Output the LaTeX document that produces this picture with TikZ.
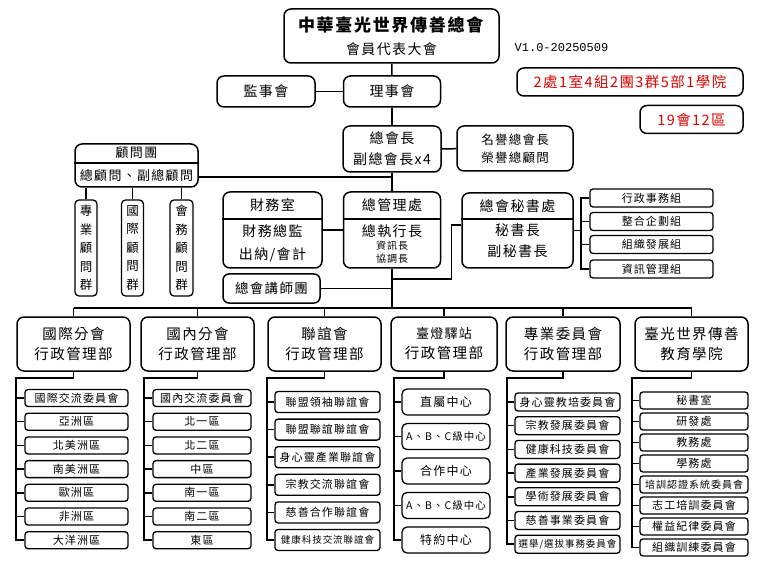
\documentclass[tikz,border=0pt]{standalone}
\usepackage{fontspec}
\setmainfont{Noto Sans CJK TC}[LetterSpace=10]
\newfontfamily\verfont{Liberation Mono}
\definecolor{hlred}{RGB}{215,0,0}

\begin{document}
\begin{tikzpicture}[x=1pt,y=-1pt,
    box/.style={draw,line width=1.5pt,rounded corners=7pt,inner sep=0pt,align=center},
    item/.style={draw,line width=1.3pt,rounded corners=3pt,inner sep=0pt,align=center},
    link/.style={line width=1.5pt}]
  \useasboundingbox (0,0) rectangle (760,569);
  % top of the chart
  \draw
    (391.5,36) node[box,minimum width=215pt,minimum height=54pt,font=\fontsize{17}{23}\selectfont] (top){\textbf{中華臺光世界傳善總會}\\{\fontsize{14}{20}\selectfont 會員代表大會}}
    (266,91.5) node[box,minimum width=98pt,minimum height=31pt,font=\fontsize{14}{20}\selectfont] (jianshi){監事會}
    (392,91.5) node[box,minimum width=97pt,minimum height=31pt,font=\fontsize{14}{20}\selectfont] (lishi){理事會}
    (392,149) node[box,minimum width=98pt,minimum height=46pt,font=\fontsize{14}{21}\selectfont] (pres){總會長\\副總會長x4}
    (515,148.5) node[box,minimum width=116pt,minimum height=45pt,font=\fontsize{12.5}{18}\selectfont] (honor){名譽總會長\\榮譽總顧問};
  \node[font=\verfont\fontsize{12}{14}\selectfont] (ver) at (561.5,48) {V1.0-20250509};
  \node[box,minimum width=226pt,minimum height=28pt,text=hlred,font=\fontsize{14.5}{18}\selectfont] (sum1) at (630,82) {2處1室4組2團3群5部1學院};
  \node[box,minimum width=103pt,minimum height=28pt,text=hlred,font=\fontsize{14.5}{18}\selectfont] (sum2) at (691.5,119.5) {19會12區};
  % advisors
  \node[box,minimum width=123pt,minimum height=43pt] (advisor) at (136.5,165.5) {};
  \node[font=\fontsize{13}{16}\selectfont] (advt) at (136.5,153) {顧問團};
  \node[font=\fontsize{13}{16}\selectfont] (advb) at (136.5,176) {總顧問、副總顧問};
  \draw[link] ([yshift=2.5pt]advisor.west) -- ([yshift=2.5pt]advisor.east);
  \draw
    (86,248) node[item,rounded corners=4pt,minimum width=22pt,minimum height=96pt,font=\fontsize{12.5}{18.5}\selectfont] (g1){專\\業\\顧\\問\\群}
    (132.5,248) node[item,rounded corners=4pt,minimum width=22pt,minimum height=96pt,font=\fontsize{12.5}{18.5}\selectfont] (g2){國\\際\\顧\\問\\群}
    (181.5,248) node[item,rounded corners=4pt,minimum width=23pt,minimum height=96pt,font=\fontsize{12.5}{18.5}\selectfont] (g3){會\\務\\顧\\問\\群};
  % offices
  \node[box,minimum width=99pt,minimum height=76pt] (finance) at (272.5,230) {};
  \node[font=\fontsize{14}{20}\selectfont] (fint) at (272.5,205) {財務室};
  \node[align=center,font=\fontsize{14}{23}\selectfont] (finb) at (272.5,243.5) {財務總監\\出納/會計};
  \draw[link] ([yshift=11pt]finance.west) -- ([yshift=11pt]finance.east);
  \node[box,minimum width=97pt,minimum height=76pt] (mgmt) at (392,230) {};
  \node[font=\fontsize{14}{20}\selectfont] (mgmtt) at (392,205) {總管理處};
  \node[font=\fontsize{14}{20}\selectfont] (mgmtb) at (392,231) {總執行長};
  \node[align=center,font=\fontsize{10}{13}\selectfont] (mgmts) at (392,252.5) {資訊長\\協調長};
  \draw[link] ([yshift=11pt]mgmt.west) -- ([yshift=11pt]mgmt.east);
  \node[box,minimum width=111pt,minimum height=75pt] (sec) at (517.5,230.5) {};
  \node[font=\fontsize{14}{20}\selectfont] (sect) at (517.5,206) {總會秘書處};
  \node[align=center,font=\fontsize{14}{21}\selectfont] (secb) at (517.5,240.5) {秘書長\\副秘書長};
  \draw[link] ([yshift=11.5pt]sec.west) -- ([yshift=11.5pt]sec.east);
  \node[box,rounded corners=6pt,minimum width=97pt,minimum height=29pt,font=\fontsize{13.5}{18}\selectfont] (lect) at (271.5,288.5) {總會講師團};
  \draw
    (651.5,198) node[item,minimum width=123pt,minimum height=18pt,font=\fontsize{11}{13}\selectfont] (r1){行政事務組}
    (651.5,221.5) node[item,minimum width=123pt,minimum height=18pt,font=\fontsize{11}{13}\selectfont] (r2){整合企劃組}
    (651.5,244.5) node[item,minimum width=123pt,minimum height=18pt,font=\fontsize{11}{13}\selectfont] (r3){組織發展組}
    (651.5,269) node[item,minimum width=123pt,minimum height=18pt,font=\fontsize{11}{13}\selectfont] (r4){資訊管理組};
  % departments
  \draw
    (73.5,344) node[box,minimum width=113pt,minimum height=54pt,font=\fontsize{14.5}{20}\selectfont] (d1){國際分會\\行政管理部}
    (197.5,344) node[box,minimum width=113pt,minimum height=54pt,font=\fontsize{14.5}{20}\selectfont] (d2){國內分會\\行政管理部}
    (324.5,344) node[box,minimum width=113pt,minimum height=54pt,font=\fontsize{14.5}{20}\selectfont] (d3){聯誼會\\行政管理部}
    (444,344) node[box,minimum width=106pt,minimum height=54pt,font=\fontsize{14.5}{20}\selectfont] (d4){{\fontsize{13}{20}\selectfont 臺燈驛站}\\行政管理部}
    (563,344) node[box,minimum width=114pt,minimum height=54pt,font=\fontsize{14.5}{20}\selectfont] (d5){專業委員會\\行政管理部}
    (691.5,344) node[box,minimum width=113pt,minimum height=54pt,font=\fontsize{14.5}{20}\selectfont] (d6){臺光世界傳善\\教育學院};
  % sub units
  \foreach \t [count=\i] in {國際交流委員會,亞洲區,北美洲區,南美洲區,歐洲區,非洲區,大洋洲區}
    \node[item,minimum width=103pt,minimum height=17pt,font=\fontsize{11}{13}\selectfont] (a\i) at (76.5,{374.3+23.7*\i}) {\t};
  \foreach \t [count=\i] in {國內交流委員會,北一區,北二區,中區,南一區,南二區,東區}
    \node[item,minimum width=98pt,minimum height=17pt,font=\fontsize{11}{13}\selectfont] (b\i) at (202,{374.3+23.7*\i}) {\t};
  \foreach \t [count=\i] in {聯盟領袖聯誼會,聯盟聯誼聯誼會,身心靈產業聯誼會,宗教交流聯誼會,慈善合作聯誼會,\fontsize{9.5}{11}\selectfont 健康科技交流聯誼會}
    \node[item,minimum width=105pt,minimum height=21pt,font=\fontsize{11}{13}\selectfont] (c\i) at (327.5,{374.4+27.6*\i}) {\t};
  \foreach \t [count=\i] in {\fontsize{12}{14}\selectfont 直屬中心,A、B、C級中心,\fontsize{12}{14}\selectfont 合作中心,A、B、C級中心,\fontsize{12}{14}\selectfont 特約中心}
    \node[item,rounded corners=5pt,minimum width=88pt,minimum height=26pt,font=\fontsize{10.5}{13}\selectfont] (e\i) at (446,{367.5+34.5*\i}) {\t};
  \foreach \t [count=\i] in {身心靈教培委員會,宗教發展委員會,健康科技委員會,產業發展委員會,學術發展委員會,慈善事業委員會,\fontsize{9.5}{11}\selectfont 選舉/選拔事務委員會}
    \node[item,minimum width=105pt,minimum height=18pt,font=\fontsize{11}{13}\selectfont] (f\i) at (567.5,{378.3+23.7*\i}) {\t};
  \foreach \t [count=\i] in {秘書室,研發處,教務處,學務處,\fontsize{10}{12}\selectfont 培訓認證系統委員會,志工培訓委員會,權益紀律委員會,組織訓練委員會}
    \node[item,minimum width=108pt,minimum height=17pt,font=\fontsize{11}{13}\selectfont] (h\i) at (694,{379.5+21*\i}) {\t};
  \coordinate (advj) at (392,177);
  \coordinate (secj) at (392,279);
  \coordinate (rj) at (581,230.5);
  \coordinate (busl) at (73.5,308);
  \coordinate (busr) at (691.5,308);
  \coordinate (v1) at (16,378);
  \coordinate (v2) at (144,378);
  \coordinate (v3) at (267,378);
  \coordinate (v4) at (394,378);
  \coordinate (v5) at (507,378);
  \coordinate (v6) at (632,378);
  \begin{scope}[link]
    \draw (top) -- (lishi);
    \draw (jianshi) -- (lishi);
    \draw (lishi) -- (pres);
    \draw (pres) -- (honor);
    \draw (pres) -- (mgmt);
    \draw (advisor.east |- advj) -- (advj);
    \draw (g1.north) -- (g1.north |- advisor.south);
    \draw (g2.north) -- (g2.north |- advisor.south);
    \draw (g3.north) -- (g3.north |- advisor.south);
    \draw (finance) -- (mgmt);
    \draw (lect.east) -- (lect.east -| mgmt.south);
    \draw (secj) -| ([xshift=-10pt,yshift=5.5pt]sec.west) -- ([yshift=5.5pt]sec.west);
    \draw (sec.east) -- (rj);
    \foreach \i in {1,...,4} \draw (r\i.west) -| (rj);
    \draw (mgmt.south) -- (mgmt.south |- busl);
    \draw (busl) -- (busr);
    \foreach \d in {d1,d2,d3,d4,d5,d6} \draw (\d.north) -- (\d.north |- busl);
    \draw (d1.south) |- (v1) |- (a7.west);
    \foreach \i in {1,...,6} \draw (a\i.west) -- (a\i.west -| v1);
    \draw (d2.south) |- (v2) |- (b7.west);
    \foreach \i in {1,...,6} \draw (b\i.west) -- (b\i.west -| v2);
    \draw (d3.south) |- (v3) |- (c6.west);
    \foreach \i in {1,...,5} \draw (c\i.west) -- (c\i.west -| v3);
    \draw (d4.south) |- (v4) |- (e5.west);
    \foreach \i in {1,...,4} \draw (e\i.west) -- (e\i.west -| v4);
    \draw (d5.south) |- (v5) |- (f7.west);
    \foreach \i in {1,...,6} \draw (f\i.west) -- (f\i.west -| v5);
    \draw (d6.south) |- (v6) |- (h8.west);
    \foreach \i in {1,...,7} \draw (h\i.west) -- (h\i.west -| v6);
  \end{scope}
\end{tikzpicture}
\end{document}
